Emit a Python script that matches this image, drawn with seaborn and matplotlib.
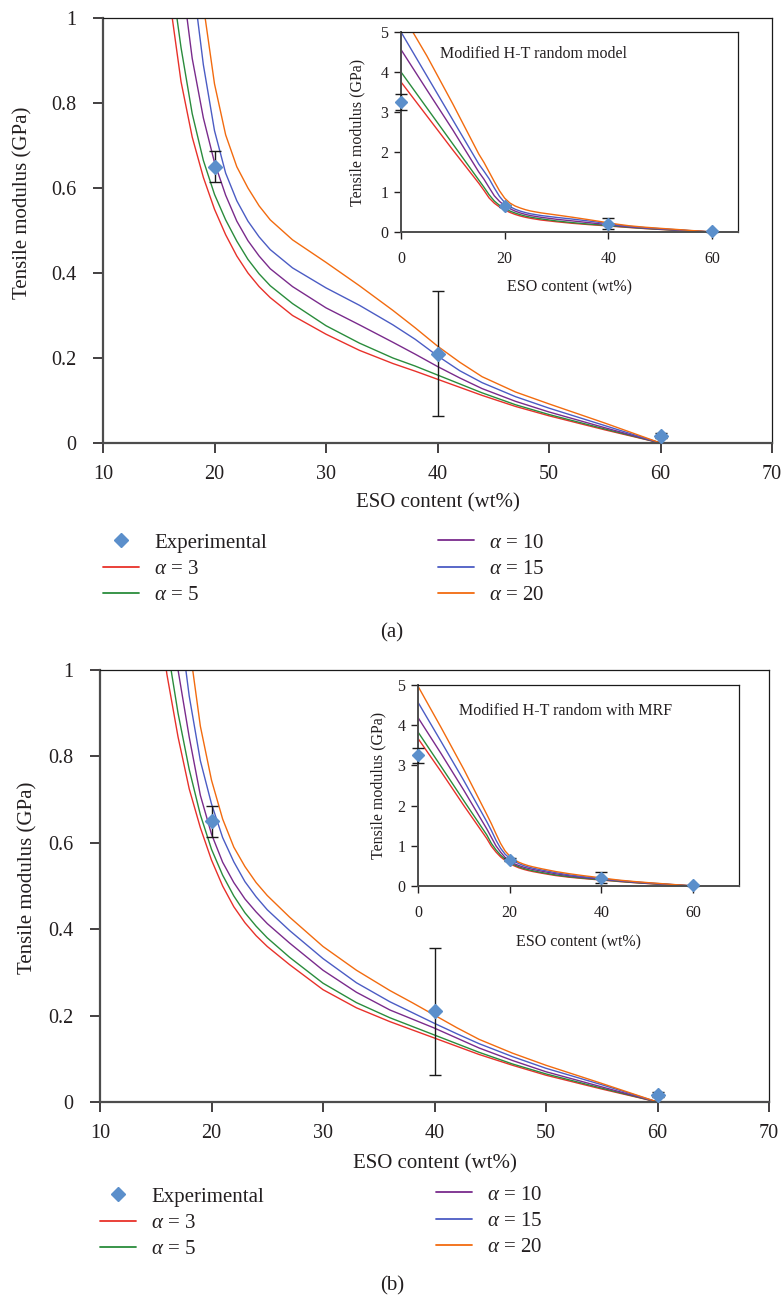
import numpy as np
import pandas as pd
import matplotlib
matplotlib.use("Agg")
import matplotlib.pyplot as plt
from matplotlib.lines import Line2D
from matplotlib.ticker import FuncFormatter
import seaborn as sns

# ---------------- data ----------------
alphas = [3, 5, 10, 15, 20]
x_model = [0, 5, 10, 15, 16, 17, 18, 19, 20, 21, 22, 23, 24, 25, 27, 30, 33, 36, 38, 40, 42, 44, 47, 50, 55, 60]

# (a) Modified H-T random model
a_alpha3 = [3.75, 2.90, 2.05, 1.22, 1.04, 0.85, 0.72, 0.625, 0.55, 0.49, 0.44, 0.40, 0.368, 0.342, 0.30, 0.256, 0.218, 0.187, 0.169, 0.150, 0.131, 0.112, 0.086, 0.064, 0.031, 0.0]
a_alpha5 = [4.00, 3.10, 2.20, 1.30, 1.12, 0.93, 0.775, 0.665, 0.585, 0.525, 0.475, 0.432, 0.398, 0.370, 0.328, 0.276, 0.235, 0.200, 0.181, 0.160, 0.139, 0.118, 0.090, 0.067, 0.033, 0.0]
a_alpha10 = [4.56, 3.55, 2.55, 1.50, 1.32, 1.11, 0.905, 0.765, 0.66, 0.583, 0.522, 0.476, 0.44, 0.41, 0.368, 0.318, 0.278, 0.237, 0.209, 0.180, 0.153, 0.128, 0.098, 0.073, 0.036, 0.0]
a_alpha15 = [5.00, 3.90, 2.80, 1.70, 1.52, 1.33, 1.10, 0.89, 0.735, 0.635, 0.57, 0.522, 0.485, 0.455, 0.412, 0.365, 0.324, 0.278, 0.244, 0.205, 0.170, 0.142, 0.109, 0.082, 0.041, 0.0]
a_alpha20 = [5.50, 4.40, 3.20, 1.95, 1.74, 1.50, 1.26, 1.03, 0.845, 0.725, 0.65, 0.60, 0.558, 0.525, 0.478, 0.425, 0.370, 0.312, 0.271, 0.228, 0.190, 0.156, 0.120, 0.092, 0.047, 0.0]

# (b) Modified H-T random with MRF
b_alpha3 = [3.67, 2.85, 2.00, 1.18, 0.99, 0.845, 0.725, 0.635, 0.56, 0.50, 0.452, 0.415, 0.385, 0.36, 0.318, 0.26, 0.218, 0.186, 0.167, 0.148, 0.129, 0.110, 0.085, 0.062, 0.030, 0.0]
b_alpha5 = [3.83, 2.98, 2.12, 1.27, 1.06, 0.90, 0.77, 0.665, 0.585, 0.525, 0.477, 0.438, 0.407, 0.38, 0.335, 0.275, 0.230, 0.195, 0.175, 0.155, 0.135, 0.115, 0.088, 0.065, 0.032, 0.0]
b_alpha10 = [4.19, 3.30, 2.38, 1.42, 1.21, 1.00, 0.845, 0.71, 0.62, 0.555, 0.508, 0.47, 0.44, 0.413, 0.368, 0.305, 0.254, 0.213, 0.192, 0.171, 0.148, 0.125, 0.096, 0.070, 0.035, 0.0]
b_alpha15 = [4.57, 3.60, 2.62, 1.60, 1.38, 1.14, 0.94, 0.79, 0.69, 0.612, 0.556, 0.51, 0.475, 0.445, 0.397, 0.332, 0.276, 0.232, 0.207, 0.182, 0.158, 0.135, 0.105, 0.078, 0.040, 0.0]
b_alpha20 = [4.97, 3.95, 2.90, 1.78, 1.55, 1.30, 1.06, 0.87, 0.745, 0.655, 0.59, 0.545, 0.508, 0.478, 0.428, 0.360, 0.305, 0.258, 0.230, 0.201, 0.172, 0.145, 0.113, 0.085, 0.043, 0.0]

# Experimental
x_exp = [0, 20, 40, 60]
y_exp = [3.25, 0.65, 0.21, 0.017]
err_exp = [0.19, 0.036, 0.147, 0.006]

colors = ["#E8312A", "#2A8C3C", "#7A2B8C", "#4B5CC4", "#F26B0F"]
exp_color = "#5B8FCB"

# ---------------- style ----------------
sns.set_theme(style="ticks")
plt.rcParams["font.family"] = ["Liberation Serif", "DejaVu Serif"]
plt.rcParams["mathtext.fontset"] = "custom"
plt.rcParams["mathtext.rm"] = "Liberation Serif"
plt.rcParams["mathtext.it"] = "Liberation Serif:italic"
plt.rcParams["text.color"] = "#231F20"
plt.rcParams["axes.labelcolor"] = "#231F20"
plt.rcParams["xtick.color"] = "#231F20"
plt.rcParams["ytick.color"] = "#231F20"

W, H = 784, 1295
fig = plt.figure(figsize=(W / 100, H / 100), dpi=100)


def px_rect(l, t, r, b):
    return [l / W, 1 - b / H, (r - l) / W, (b - t) / H]


def make_df(series):
    rows = []
    for a, vals in zip(alphas, series):
        for xv, yv in zip(x_model, vals):
            rows.append({"x": xv, "E": yv, "alpha": str(a)})
    return pd.DataFrame(rows)


def style_spines(ax, lw_main=1.6, lw_thin=0.9):
    for s in ["left", "bottom"]:
        ax.spines[s].set_color("#4D4D4D")
        ax.spines[s].set_linewidth(lw_main)
    for s in ["top", "right"]:
        ax.spines[s].set_visible(True)
        ax.spines[s].set_color("#1A1A1A")
        ax.spines[s].set_linewidth(lw_thin)


def draw_curves(ax, df, clip=True, lw=1.0):
    sns.lineplot(data=df, x="x", y="E", hue="alpha", palette=colors,
                 estimator=None, sort=False, legend=False, ax=ax, lw=lw)
    for ln in ax.get_lines():
        ln.set_clip_on(clip)
        ln.set_solid_joinstyle("round")


def draw_exp(ax, clip=True, ms=7):
    eb = ax.errorbar(x_exp, y_exp, yerr=err_exp, fmt="none", ecolor="#1A1A1A",
                     elinewidth=1.0, capsize=4, capthick=1.0, zorder=5)
    for c in eb.get_children():
        c.set_clip_on(clip)
    ax.plot(x_exp, y_exp, linestyle="none", marker="D", ms=ms,
            color=exp_color, mec=exp_color, zorder=6, clip_on=clip)


fmt = FuncFormatter(lambda v, p: f"{v:g}")


def main_panel(rect, series, ylab_xy, xlab_y):
    ax = fig.add_axes(rect)
    df = make_df(series)
    draw_curves(ax, df, clip=True, lw=1.0)
    draw_exp(ax, clip=True)
    ax.set_xlim(10, 70)
    ax.set_ylim(0, 1)
    ax.set_xticks(range(10, 71, 10))
    ax.set_yticks([0, 0.2, 0.4, 0.6, 0.8, 1.0])
    ax.yaxis.set_major_formatter(fmt)
    ax.tick_params(direction="out", length=7, width=1.2, labelsize=14.5, colors="#231F20")
    ax.tick_params(axis="y", pad=12)
    ax.tick_params(axis="x", pad=9)
    ax.set_xlabel("ESO content (wt%)", fontsize=15)
    ax.set_ylabel("Tensile modulus (GPa)", fontsize=15)
    ax.yaxis.set_label_coords(*ylab_xy)
    ax.xaxis.set_label_coords(0.5, xlab_y)
    style_spines(ax)
    ax.set_facecolor("white")
    return ax


def inset_panel(rect, series, xmax, title, title_xy, ylab_x, xlab_y):
    ax = fig.add_axes(rect)
    df = make_df(series)
    draw_curves(ax, df, clip=True, lw=1.0)
    draw_exp(ax, clip=False, ms=6.5)
    ax.set_xlim(0, xmax)
    ax.set_ylim(0, 5)
    ax.set_xticks([0, 20, 40, 60])
    ax.set_yticks([0, 1, 2, 3, 4, 5])
    ax.tick_params(direction="out", length=5, width=1.0, labelsize=11.5, colors="#231F20")
    ax.tick_params(axis="x", pad=9)
    ax.tick_params(axis="y", pad=4)
    ax.set_xlabel("ESO content (wt%)", fontsize=11.5)
    ax.set_ylabel("Tensile modulus (GPa)", fontsize=11.5)
    ax.yaxis.set_label_coords(ylab_x, 0.5)
    ax.xaxis.set_label_coords(0.5, xlab_y)
    ax.text(title_xy[0], title_xy[1], title, transform=ax.transAxes,
            fontsize=11.5, ha="left", va="center")
    style_spines(ax, lw_main=1.4, lw_thin=0.9)
    ax.set_facecolor("white")
    return ax


def legend_block(col1_xy, col2_xy):
    exp_h = Line2D([], [], linestyle="none", marker="D", ms=7, color=exp_color)
    line_h = [Line2D([], [], color=c, lw=1.3) for c in colors]
    labels = [rf"$\alpha$ = {a}" for a in alphas]
    kw = dict(loc="upper left", frameon=False, fontsize=15, handlelength=1.75,
              handletextpad=0.7, labelspacing=0.33, borderpad=0, borderaxespad=0)
    l1 = fig.legend([exp_h, line_h[0], line_h[1]], ["Experimental", labels[0], labels[1]],
                    bbox_to_anchor=(col1_xy[0] / W, 1 - col1_xy[1] / H), **kw)
    l2 = fig.legend(line_h[2:], labels[2:],
                    bbox_to_anchor=(col2_xy[0] / W, 1 - col2_xy[1] / H), **kw)
    return l1, l2


# ---------------- panel (a) ----------------
main_panel(px_rect(103, 18, 772, 443), [a_alpha3, a_alpha5, a_alpha10, a_alpha15, a_alpha20],
           ylab_xy=(-0.105, 0.565), xlab_y=-0.118)
inset_panel(px_rect(401, 32, 738, 232), [a_alpha3, a_alpha5, a_alpha10, a_alpha15, a_alpha20],
            65, "Modified H-T random model", (0.116, 0.89), -0.105, -0.235)
legend_block((103, 533), (438, 533))
fig.text(392 / W, 1 - 633 / H, "(a)", fontsize=15, ha="center", va="center")

# ---------------- panel (b) ----------------
main_panel(px_rect(100, 670, 769, 1102), [b_alpha3, b_alpha5, b_alpha10, b_alpha15, b_alpha20],
           ylab_xy=(-0.093, 0.518), xlab_y=-0.12)
inset_panel(px_rect(418, 685, 739, 886), [b_alpha3, b_alpha5, b_alpha10, b_alpha15, b_alpha20],
            70, "Modified H-T random with MRF", (0.128, 0.87), -0.097, -0.239)
legend_block((100, 1187), (436, 1185))
fig.text(392 / W, 1 - 1286 / H, "(b)", fontsize=15, ha="center", va="center")

fig.savefig("out.png", dpi=100, facecolor="white")
